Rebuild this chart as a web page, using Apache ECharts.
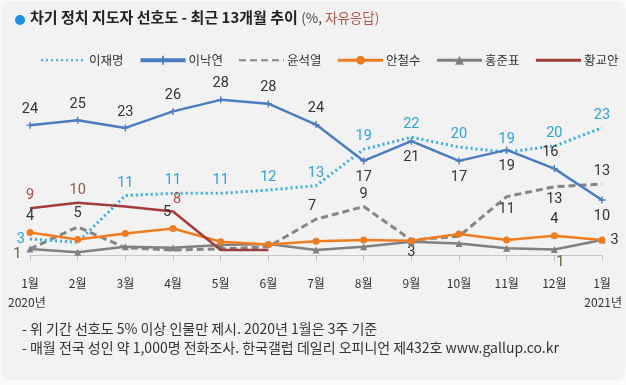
<!DOCTYPE html>
<html><head><meta charset="utf-8">
<script src="https://cdn.jsdelivr.net/npm/echarts@6/dist/echarts.min.js"></script>
<style>html,body{margin:0;padding:0;background:#fafafa;}#c{width:626px;height:385px;}</style>
</head><body><div id="c"></div>
<script>
// ---- data ----
const months = ['1월','2월','3월','4월','5월','6월','7월','8월','9월','10월','11월','12월','1월'];
const leeJaemyung = [3, 2.4, 10.9, 11.3, 11.3, 11.9, 12.7, 19.3, 21.5, 19.7, 18.8, 19.9, 23.2];
const leeNakyon   = [23.7, 24.6, 23.2, 26.2, 28.3, 27.6, 23.8, 17.2, 20.8, 17.2, 19.2, 15.8, 10.1];
const yoonSeokyul = [1.2, 5.2, 1.4, 1.0, 1.2, 1.6, 6.6, 8.9, 2.8, 3.5, 10.7, 12.5, 13.0];
const ahnCheolsoo = [4.2, 2.9, 4.0, 4.9, 2.5, 2.0, 2.6, 2.8, 2.7, 3.9, 2.8, 3.6, 2.8];
const hongJunpyo  = [1.2, 0.6, 1.6, 1.4, 1.9, 2.1, 1.0, 1.6, 2.5, 2.2, 1.3, 1.1, 2.8];
const hwangKyoahn = [8.6, 9.6, 8.9, 8.0, 1.0, 1.0, null, null, null, null, null, null, null];
const seriesNames = ['이재명','이낙연','윤석열','안철수','홍준표','황교안'];

// ---- label placement (style) ----
const T = ['top'], B = ['bottom'];
const lblJM = {0:['left'],2:T,3:T,4:T,5:T,6:T,7:T,8:T,9:T,10:T,11:T,12:T};
const lblNY = {0:T,1:T,2:T,3:T,4:T,5:T,6:T,7:B,8:B,9:B,10:B,11:['top',-4,0],12:B};
const lblYS = {1:['top',0,-1],6:['top',-4,0],7:T,8:B,10:B,11:B,12:T};
const lblAC = {0:T,3:['top',-6,0],11:T,12:['right']};
const lblHJ = {0:['left',0,5],11:['bottom',6,-3]};
const lblHK = {0:T,1:['top',0,0,'#8d5b3f'],3:['top',4,0]};

function build(values, spec, color){
  return values.map((v,i)=>{
    const s = spec[i];
    if (v === null) return null;
    if (!s) return {value:v, label:{show:false}};
    return {value:v, label:{show:true, position:s[0], offset:[s[1]||0, s[2]||0], distance:5,
      color: s[3] || color, fontSize:14.5, fontFamily:'Roboto',
      formatter: p => Math.round(p.value)}};
  });
}
const plus = 'path://M4,0h2v4h4v2h-4v4h-2v-4h-4v-2h4z';
const noMark = {symbol:'circle', symbolSize:0.01, showSymbol:true};

const chart = echarts.init(document.getElementById('c'));
chart.setOption({
  backgroundColor:'transparent',
  animation:false,
  grid:{left:30, right:24, top:90.5, bottom:129.5},
  legend:{
    left:35, top:49, itemWidth:45, itemHeight:11, itemGap:15,
    textStyle:{fontSize:12.5, color:'#333', fontFamily:'Noto Sans CJK KR', padding:[0,0,0,-2]},
    data:[
      {name:'이재명', itemStyle:{opacity:0}},
      {name:'이낙연', lineStyle:{width:4}},
      {name:'윤석열', itemStyle:{opacity:0}},
      {name:'안철수', lineStyle:{width:3}},
      {name:'홍준표', lineStyle:{width:3}},
      {name:'황교안', itemStyle:{opacity:0}, lineStyle:{width:3}}
    ]
  },
  xAxis:{
    type:'category', data:months, boundaryGap:false,
    axisLine:{lineStyle:{color:'#c8c8c8'}},
    axisTick:{length:5, lineStyle:{color:'#c0c0c0'}},
    axisLabel:{margin:22, fontSize:12, color:'#333', fontFamily:'Noto Sans CJK KR'}
  },
  yAxis:{type:'value', min:0, max:30, show:false, splitLine:{show:false}},
  series:[
    Object.assign({name:'이재명', type:'line', data:build(leeJaemyung,lblJM,'#2ba3dc'), z:3,
      itemStyle:{color:'#33aee6'}, lineStyle:{color:'#33aee6', width:3, type:[2,3]}}, noMark),
    {name:'이낙연', type:'line', data:build(leeNakyon,lblNY,'#333'), symbol:plus, symbolSize:7, z:5,
      itemStyle:{color:'#4a7cc0'}, lineStyle:{color:'#4a7cc0', width:2.5}},
    Object.assign({name:'윤석열', type:'line', data:build(yoonSeokyul,lblYS,'#333'), z:2,
      itemStyle:{color:'#858585'}, lineStyle:{color:'#858585', width:3, type:[7,4]}}, noMark),
    {name:'안철수', type:'line', data:build(ahnCheolsoo,lblAC,'#333'), symbol:'circle', symbolSize:7, z:4,
      itemStyle:{color:'#ee7d22'}, lineStyle:{color:'#ee7d22', width:2.5}},
    {name:'홍준표', type:'line', data:build(hongJunpyo,lblHJ,'#6b5a3a'), symbol:'triangle', symbolSize:7, z:3,
      itemStyle:{color:'#808080'}, lineStyle:{color:'#808080', width:2.5}},
    Object.assign({name:'황교안', type:'line', data:build(hwangKyoahn,lblHK,'#a84c4c'), z:4,
      itemStyle:{color:'#a33b3b'}, lineStyle:{color:'#a33b3b', width:2.5}}, noMark)
  ],
  graphic:[
    {type:'rect', z:-10, silent:true, shape:{x:1,y:1,width:624,height:379,r:8}, style:{fill:'#f2f2f2'}},
    {type:'circle', shape:{cx:20, cy:20, r:5}, style:{fill:'#1a8fe6'}},
    {type:'text', left:30, top:10, style:{
      text:'{a|차기 정치 지도자 선호도 - 최근 13개월 추이} {b|(%, }{c|자유응답)}',
      rich:{
        a:{fontSize:15, fontWeight:'bold', fill:'#222', fontFamily:'Noto Sans CJK KR'},
        b:{fontSize:13.5, fill:'#444', fontFamily:'Noto Sans CJK KR'},
        c:{fontSize:13.5, fill:'#b4544c', fontFamily:'Noto Sans CJK KR'}
      }}},
    {type:'text', left:8, top:296, style:{text:'2020년', fontSize:12, fill:'#333', fontFamily:'Noto Sans CJK KR'}},
    {type:'text', right:4, top:296, style:{text:'2021년', fontSize:12, fill:'#333', fontFamily:'Noto Sans CJK KR'}},
    {type:'text', left:22, top:322, style:{text:'- 위 기간 선호도 5% 이상 인물만 제시. 2020년 1월은 3주 기준', fontSize:14, fill:'#333', fontFamily:'Noto Sans CJK KR'}},
    {type:'text', left:22, top:341, style:{text:'- 매월 전국 성인 약 1,000명 전화조사. 한국갤럽 데일리 오피니언 제432호 www.gallup.co.kr', fontSize:14, fill:'#333', fontFamily:'Noto Sans CJK KR'}}
  ]
});
</script></body></html>
